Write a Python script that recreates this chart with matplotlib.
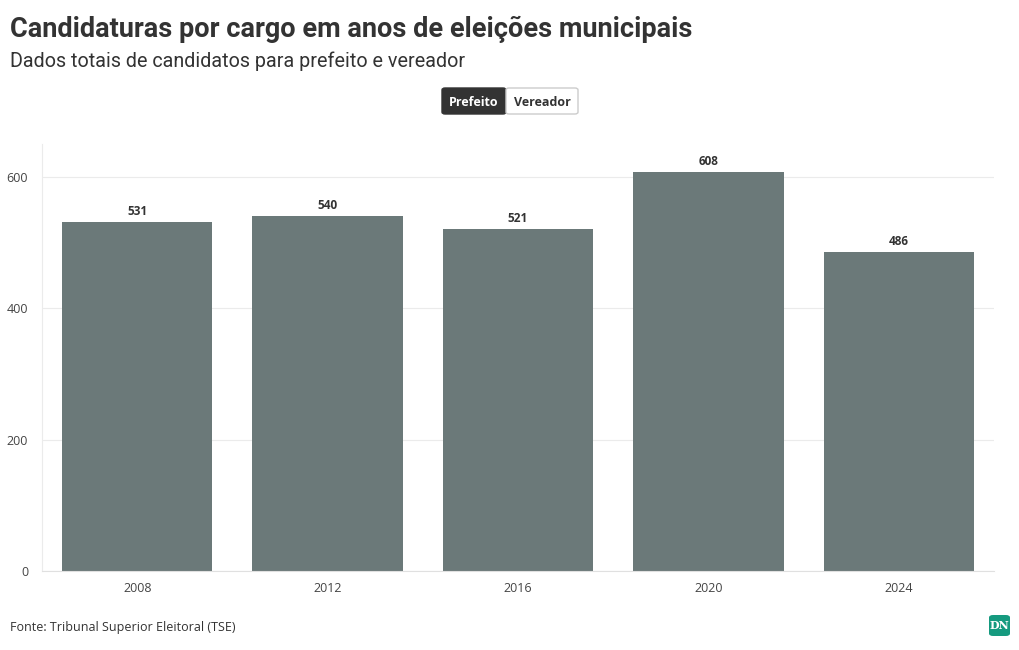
import matplotlib
matplotlib.use('Agg')
import matplotlib.pyplot as plt
from matplotlib.patches import FancyBboxPatch

# data
anos = ['2008', '2012', '2016', '2020', '2024']
prefeito = [531, 540, 521, 608, 486]
yticks = [0, 200, 400, 600]

W, H = 1020, 650
fig = plt.figure(figsize=(W / 100, H / 100), dpi=100)
ax = fig.add_axes([42 / W, 1 - 571 / H, (994 - 42) / W, (571 - 144) / H])

bars = ax.bar(range(len(anos)), prefeito, width=0.79, color='#6b7979', zorder=2)
for i, v in enumerate(prefeito):
    ax.text(i, v + 6, str(v), ha='center', va='bottom', fontsize=8.5,
            fontweight='bold', color='#333333', family='Open Sans')

ax.set_xlim(-0.5, len(anos) - 0.5)
ax.set_ylim(0, 650)
ax.set_yticks(yticks)
ax.set_xticks(range(len(anos)))
ax.set_xticklabels(anos)
ax.tick_params(length=0, labelsize=9, colors='#444444', pad=8)
ax.tick_params(axis='y', pad=10)
for lab in ax.get_xticklabels() + ax.get_yticklabels():
    lab.set_family('Open Sans')
ax.grid(axis='y', color='#ebebeb', lw=0.8, zorder=0)
for s in ['top', 'right']:
    ax.spines[s].set_visible(False)
ax.spines['left'].set_color('#ebebeb')
ax.spines['bottom'].set_color('#e0e0e0')

fig.text(10 / W, 1 - 29 / H, 'Candidaturas por cargo em anos de eleições municipais',
         fontsize=19.5, fontweight='bold', color='#333333',
         family='Roboto', va='center')
fig.text(10 / W, 1 - 61 / H, 'Dados totais de candidatos para prefeito e vereador',
         fontsize=14.2, color='#333333', family='Roboto', va='center')

# botoes
b1 = FancyBboxPatch((442 / W, 1 - 114 / H), 64 / W, 26 / H,
                    boxstyle='round,pad=0,rounding_size=0.003',
                    transform=fig.transFigure, fc='#333333', ec='#333333', lw=1)
b2 = FancyBboxPatch((506 / W, 1 - 114 / H), 72 / W, 26 / H,
                    boxstyle='round,pad=0,rounding_size=0.003',
                    transform=fig.transFigure, fc='white', ec='#cccccc', lw=1)
fig.patches.extend([b1, b2])
fig.text(474 / W, 1 - 102 / H, 'Prefeito', ha='center', va='center', fontsize=9,
         fontweight='bold', color='white', family='Open Sans')
fig.text(542 / W, 1 - 102 / H, 'Vereador', ha='center', va='center', fontsize=9,
         fontweight='bold', color='#333333', family='Open Sans')

fig.text(10 / W, 1 - 627 / H, 'Fonte: Tribunal Superior Eleitoral (TSE)',
         fontsize=9, color='#333333', family='Open Sans', va='center')

logo = FancyBboxPatch((989 / W, 1 - 636 / H), 21 / W, 21 / H,
                      boxstyle='round,pad=0,rounding_size=0.004',
                      transform=fig.transFigure, fc='#159a7f', ec='none')
fig.patches.append(logo)
fig.text(999.5 / W, 1 - 625.5 / H, 'DN', ha='center', va='center', fontsize=8,
         fontweight='bold', color='white', family='DejaVu Serif')

fig.savefig('out.png', dpi=100)
